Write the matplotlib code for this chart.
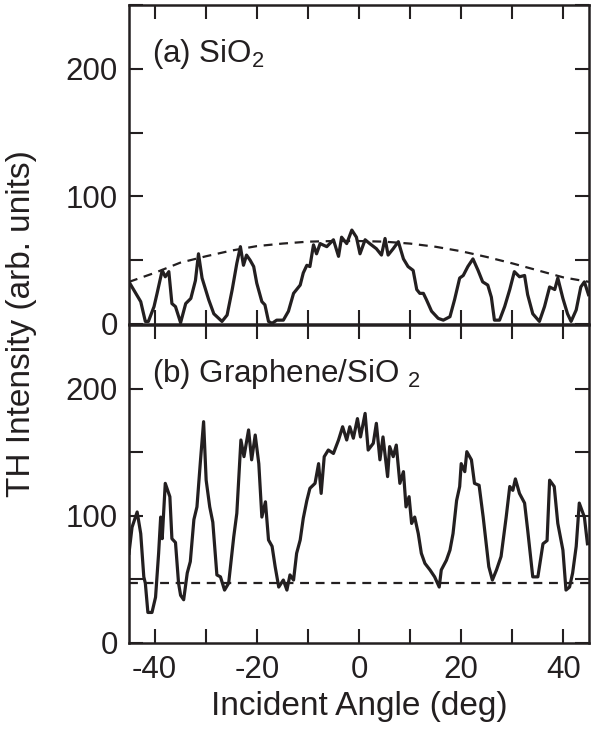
import numpy as np
import matplotlib
matplotlib.use('Agg')
import matplotlib.pyplot as plt
from matplotlib.ticker import MultipleLocator

plt.rcParams['font.family'] = ['Liberation Sans', 'DejaVu Sans']
plt.rcParams['mathtext.fontset'] = 'custom'
plt.rcParams['mathtext.rm'] = 'Liberation Sans'
plt.rcParams['axes.unicode_minus'] = False

INK = '#231f20'

# (a) SiO2 trace
angle_a = [-45.0, -42.7, -41.8, -41.2, -40.1, -39.5, -38.5, -37.9, -37.2, -36.6, -35.9, -34.9,
           -33.9, -32.9, -32.0, -31.4, -30.7, -29.4, -28.4, -26.8, -25.8, -24.8, -23.9, -23.2,
           -22.6, -22.0, -21.3, -20.6, -20.0, -19.0, -18.4, -17.7, -17.0, -16.1, -14.8, -13.8,
           -12.8, -12.2, -11.5, -10.9, -10.2, -9.6, -8.9, -8.3, -7.6, -6.3, -5.0, -4.0, -3.4,
           -2.4, -1.4, -0.5, 0.2, 1.2, 2.1, 3.4, 4.4, 5.1, 5.7, 6.7, 7.7, 8.7, 9.6, 10.6, 11.3,
           11.9, 12.6, 13.2, 14.2, 15.5, 16.5, 17.8, 18.7, 19.7, 20.4, 21.3, 22.3, 23.3, 24.2,
           25.2, 25.9, 26.5, 27.5, 28.5, 29.5, 30.4, 31.4, 32.4, 33.0, 34.0, 35.3, 36.3, 37.3,
           38.3, 38.9, 39.9, 40.8, 41.5, 42.5, 43.4, 44.1, 44.9]
sig_a = [33, 17.5, 2, 2, 13.6, 24, 42, 37, 41, 16, 13.6, 1,
         16, 20, 34, 55, 36, 19, 8, 2, 7, 27, 47.5, 60.6,
         46, 54, 50, 45, 32, 17.5, 15, 2, 0.5, 3, 3, 10,
         24, 27, 30.5, 40, 46, 45, 62, 55, 63, 60.6, 66, 53, 68,
         63, 73.6, 68, 55, 66, 63, 59, 54, 67, 54, 59, 64.5, 51, 45, 42, 27,
         24, 24, 19, 10, 4.4, 3, 5.7, 19, 36, 38, 45, 51, 42, 33,
         30.5, 21, 3, 3, 13.6, 27, 41, 37, 38, 23, 8, 2, 13.6, 29,
         27, 36, 20, 8, 2, 11, 29, 33, 23]

# (a) dashed envelope
env_angle = [-45, -40, -35, -30, -25, -20, -15, -10, -5, 0, 5, 10, 15, 20, 25, 30, 35, 40, 45]
env_a = [33, 40, 48, 53, 57.5, 61, 63, 64.5, 65, 65, 64.5, 63, 60.5, 57, 52.5, 47.5, 42, 36.5, 33]

# (b) Graphene/SiO2 trace
angle_b = [-45.0, -44.4, -43.4, -42.7, -42.1, -41.8, -41.3, -40.5, -39.8, -39.2, -38.8, -38.5,
           -37.9, -37.0, -36.6, -35.9, -35.3, -34.9, -34.3, -33.6, -33.0, -32.3, -31.7, -31.0,
           -30.4, -29.9, -29.2, -28.6, -27.8, -27.1, -26.3, -25.5, -24.5, -23.9, -23.1, -22.5,
           -21.6, -21.0, -20.3, -19.6, -19.0, -18.3, -17.7, -17.0, -16.4, -15.7, -14.8, -14.1,
           -13.5, -12.8, -12.2, -11.5, -10.9, -10.2, -9.6, -8.6, -7.9, -7.4, -6.8, -6.0, -5.0,
           -4.0, -3.2, -2.4, -1.8, -1.1, -0.3, 0.3, 1.2, 1.8, 2.8, 3.4, 4.1, 4.7, 5.6, 6.0, 6.7,
           7.3, 8.0, 8.7, 9.2, 9.8, 10.3, 10.9, 11.6, 12.2, 12.9, 13.9, 14.8, 15.7, 16.1, 17.1,
           17.8, 18.4, 19.1, 19.7, 20.0, 20.7, 21.1, 22.0, 22.6, 23.5, 24.3, 24.9, 25.4, 26.1,
           26.9, 27.8, 28.8, 29.5, 30.1, 30.6, 31.4, 32.4, 33.0, 34.0, 35.0, 36.0, 36.8, 37.3,
           38.2, 38.9, 39.9, 40.5, 41.2, 41.8, 42.5, 43.1, 44.1, 44.7]
sig_b = [70.5, 91, 103, 86, 52, 47, 24, 24, 36, 70.5, 99, 82,
         125.5, 115, 82, 79, 47, 37.5, 34, 55, 64, 97, 107, 144,
         174, 128, 107, 95, 53.5, 52, 41.6, 47, 83.6, 102, 159.6, 146.5,
         167.5, 144, 163.5, 141, 99, 111, 81, 76, 60, 44, 49.5, 41.6,
         53.5, 49.5, 70.5, 81, 98, 112, 121.6, 125.5, 141, 117.6, 146.5, 151.7, 149,
         159.6, 170, 159.6, 170, 161, 176.4, 162, 180.5, 151.7, 157, 172.7, 144, 162, 130.8, 154.4, 146.5,
         155.6, 125.5, 134.7, 107, 115, 94, 99, 86, 70.5, 62.6, 57.4, 52, 44, 57.4, 65,
         73, 86, 112, 123, 141, 134.7, 150.4, 144, 125.5, 124, 99, 78, 60, 49.5,
         57.4, 68, 99, 123, 120, 129, 117.6, 110, 89, 52, 52, 78, 80.5, 128,
         123, 94, 73, 41.6, 44, 55, 76, 110, 99, 78]

# (b) dashed baseline
base_angle = [-45, 45]
base_b = [47, 47]

labels = ['(a) SiO$\\mathregular{_2}$', '(b) Graphene/SiO $\\mathregular{_2}$']


def style_axis(ax):
    ax.set_xlim(-45, 45)
    ax.set_ylim(0, 250)
    ax.xaxis.set_major_locator(MultipleLocator(20))
    ax.xaxis.set_minor_locator(MultipleLocator(10))
    ax.yaxis.set_major_locator(MultipleLocator(100))
    ax.yaxis.set_minor_locator(MultipleLocator(50))
    for which in ('major', 'minor'):
        ax.tick_params(which=which, direction='in', length=10, width=1.5,
                       top=True, right=True, colors=INK)
    ax.tick_params(which='major', labelsize=22.5, labelcolor=INK, pad=8)
    ax.tick_params(axis='x', which='major', pad=9)
    for sp in ax.spines.values():
        sp.set_linewidth(1.8)
        sp.set_color(INK)


def main():
    fig = plt.figure(figsize=(6.01, 7.31), dpi=100)
    ax_a = fig.add_axes([0.2146, 0.5568, 0.7654, 0.4364])
    ax_b = fig.add_axes([0.2146, 0.1204, 0.7654, 0.4350])

    ax_a.plot(angle_a, sig_a, color=INK, linewidth=2.3)
    ax_a.plot(env_angle, env_a, color=INK, linewidth=1.6, dashes=(4, 3))
    ax_b.plot(angle_b, sig_b, color=INK, linewidth=2.3)
    ax_b.plot(base_angle, base_b, color=INK, linewidth=1.6, dashes=(4, 3))

    for ax, lab in zip((ax_a, ax_b), labels):
        style_axis(ax)
        ax.text(0.05, 0.82, lab, transform=ax.transAxes, fontsize=22.5,
                color=INK, va='baseline', ha='left')

    ax_a.tick_params(axis='x', labelbottom=False)
    ax_b.set_xlabel('Incident Angle (deg)', fontsize=24, color=INK, labelpad=4)
    fig.text(0.035, 0.557, 'TH Intensity (arb. units)', rotation=90, fontsize=24,
             color=INK, ha='center', va='center')

    fig.savefig('out.png', dpi=100)


if __name__ == '__main__':
    main()
